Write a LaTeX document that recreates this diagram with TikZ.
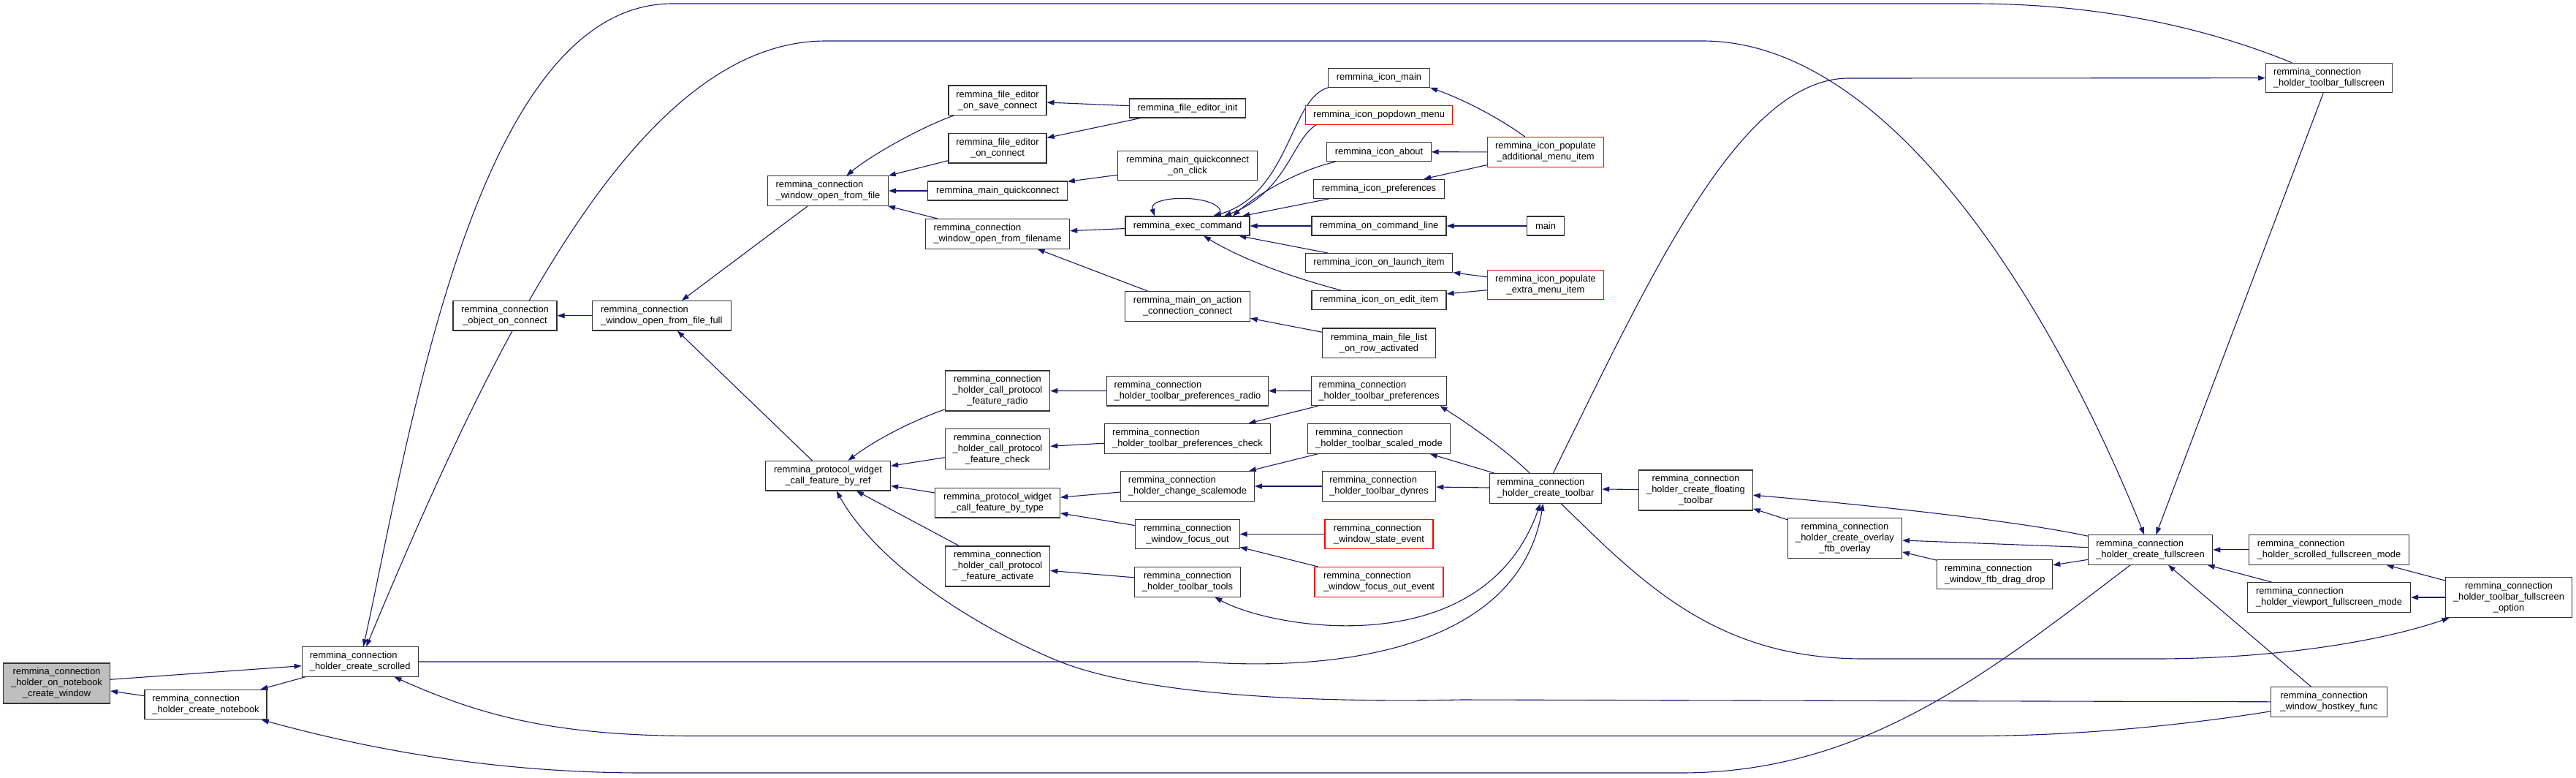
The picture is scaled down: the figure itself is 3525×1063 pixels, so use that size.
\documentclass[tikz,border=0pt]{standalone}
\usepackage{fontspec}
\setmainfont{Liberation Sans}
\usetikzlibrary{arrows.meta,backgrounds}
\definecolor{navy}{HTML}{191970}
\definecolor{grey75}{HTML}{BFBFBF}

\begin{document}
\begin{tikzpicture}[x=1pt,y=-1pt,>={Triangle[length=10pt,width=7pt]},
  fn/.style={draw=black!80,fill=white,line width=1.1pt,inner sep=1pt,font=\fontsize{12.9}{15}\selectfont},
  one/.style={minimum height=26pt},
  two/.style={minimum height=40.5pt},
  three/.style={minimum height=55pt},
  trunc/.style={draw=red}]
\useasboundingbox (0,0) rectangle (3525,1063);
\node[fn,fill=grey75,three,minimum width=146pt,align=center] (root) at (77.5,934.5) {remmina\_connection\\\_holder\_on\_notebook\\\_create\_window};
\node[fn,two,minimum width=167pt,align=left] (nb) at (281.5,963.6) {remmina\_connection\\\_holder\_create\_notebook};
\node[fn,two,minimum width=159pt,align=left] (scr) at (492.7,905) {remmina\_connection\\\_holder\_create\_scrolled};
\node[fn,two,minimum width=142pt,align=center] (oc) at (691,431.7) {remmina\_connection\\\_object\_on\_connect};
\node[fn,two,minimum width=189.5pt,align=left] (ff) at (905.3,431.7) {remmina\_connection\\\_window\_open\_from\_file\_full};
\node[fn,two,minimum width=165pt,align=left] (of) at (1133,261) {remmina\_connection\\\_window\_open\_from\_file};
\node[fn,two,minimum width=171pt,align=center] (cfr) at (1133,650.7) {remmina\_protocol\_widget\\\_call\_feature\_by\_ref};
\node[fn,two,minimum width=134pt,align=center] (sc) at (1365,137.2) {remmina\_file\_editor\\\_on\_save\_connect};
\node[fn,two,minimum width=134pt,align=center] (ocn) at (1365,202.7) {remmina\_file\_editor\\\_on\_connect};
\node[fn,one,minimum width=190.6pt] (mq) at (1365,261) {remmina\_main\_quickconnect};
\node[fn,two,minimum width=197.4pt,align=left] (ofn) at (1365,319.8) {remmina\_connection\\\_window\_open\_from\_filename};
\node[fn,three,minimum width=143.5pt,align=center] (ra) at (1365,534.5) {remmina\_connection\\\_holder\_call\_protocol\\\_feature\_radio};
\node[fn,three,minimum width=143.5pt,align=center] (ck) at (1365,614.3) {remmina\_connection\\\_holder\_call\_protocol\\\_feature\_check};
\node[fn,two,minimum width=171pt,align=center] (bt) at (1365,687.7) {remmina\_protocol\_widget\\\_call\_feature\_by\_type};
\node[fn,three,minimum width=143.5pt,align=center] (ac) at (1365,774.5) {remmina\_connection\\\_holder\_call\_protocol\\\_feature\_activate};
\node[fn,one,minimum width=158.5pt] (fei) at (1625,148) {remmina\_file\_editor\_init};
\node[fn,two,minimum width=190.5pt,align=center] (qc) at (1625,226.6) {remmina\_main\_quickconnect\\\_on\_click};
\node[fn,one,minimum width=170pt] (ex) at (1625,309) {remmina\_exec\_command};
\node[fn,two,minimum width=170.5pt,align=center] (ma) at (1625,418.8) {remmina\_main\_on\_action\\\_connection\_connect};
\node[fn,two,minimum width=220.4pt,align=left] (pr) at (1625,534.7) {remmina\_connection\\\_holder\_toolbar\_preferences\_radio};
\node[fn,two,minimum width=227.3pt,align=left] (pc) at (1625,599.8) {remmina\_connection\\\_holder\_toolbar\_preferences\_check};
\node[fn,two,minimum width=182.5pt,align=left] (cs) at (1625,665) {remmina\_connection\\\_holder\_change\_scalemode};
\node[fn,two,minimum width=142.3pt,align=center] (fo) at (1625,730.4) {remmina\_connection\\\_window\_focus\_out};
\node[fn,two,minimum width=145pt,align=center] (tt) at (1625,795.8) {remmina\_connection\\\_holder\_toolbar\_tools};
\node[fn,one,minimum width=139pt] (im) at (1887,106.4) {remmina\_icon\_main};
\node[fn,trunc,one,minimum width=201.5pt] (pd) at (1887,157.2) {remmina\_icon\_popdown\_menu};
\node[fn,one,minimum width=142.3pt] (ia) at (1887,207.7) {remmina\_icon\_about};
\node[fn,one,minimum width=179pt] (ip) at (1887,258.3) {remmina\_icon\_preferences};
\node[fn,one,minimum width=184pt] (ocl) at (1887,309) {remmina\_on\_command\_line};
\node[fn,one,minimum width=201.5pt] (il) at (1887,359.5) {remmina\_icon\_on\_launch\_item};
\node[fn,one,minimum width=184pt] (ie) at (1887,410.5) {remmina\_icon\_on\_edit\_item};
\node[fn,two,minimum width=154.4pt,align=center] (mfl) at (1887,469.2) {remmina\_main\_file\_list\\\_on\_row\_activated};
\node[fn,two,minimum width=185.4pt,align=left] (tp) at (1887,534.4) {remmina\_connection\\\_holder\_toolbar\_preferences};
\node[fn,two,minimum width=194.6pt,align=left] (sm) at (1887,600) {remmina\_connection\\\_holder\_toolbar\_scaled\_mode};
\node[fn,two,minimum width=155.5pt,align=left] (dr) at (1887,665) {remmina\_connection\\\_holder\_toolbar\_dynres};
\node[fn,trunc,two,minimum width=148pt,align=left] (se) at (1887,730.4) {remmina\_connection\\\_window\_state\_event};
\node[fn,trunc,two,minimum width=176pt,align=left] (fe) at (1887,795.8) {remmina\_connection\\\_window\_focus\_out\_event};
\node[fn,trunc,two,minimum width=158.5pt,align=center] (ad) at (2115,207.9) {remmina\_icon\_populate\\\_additional\_menu\_item};
\node[fn,one,minimum width=50.5pt] (mn) at (2115,309) {main};
\node[fn,trunc,two,minimum width=158.5pt,align=center] (ext) at (2115,389.3) {remmina\_icon\_populate\\\_extra\_menu\_item};
\node[fn,two,minimum width=153.3pt,align=left] (ctb) at (2115,668) {remmina\_connection\\\_holder\_create\_toolbar};
\node[fn,three,minimum width=155.6pt,align=center] (flt) at (2320.5,670.5) {remmina\_connection\\\_holder\_create\_floating\\\_toolbar};
\node[fn,three,minimum width=156pt,align=center] (ovl) at (2524.5,736) {remmina\_connection\\\_holder\_create\_overlay\\\_ftb\_overlay};
\node[fn,two,minimum width=158pt,align=left] (dd) at (2729.7,785.3) {remmina\_connection\\\_window\_ftb\_drag\_drop};
\node[fn,two,minimum width=170.4pt,align=left] (cfs) at (2942.5,751.9) {remmina\_connection\\\_holder\_create\_fullscreen};
\node[fn,two,minimum width=173.3pt,align=left] (tfs) at (3187,106.6) {remmina\_connection\\\_holder\_toolbar\_fullscreen};
\node[fn,two,minimum width=218.4pt,align=left] (sfm) at (3187,751.9) {remmina\_connection\\\_holder\_scrolled\_fullscreen\_mode};
\node[fn,two,minimum width=223pt,align=left] (vfm) at (3187,817) {remmina\_connection\\\_holder\_viewport\_fullscreen\_mode};
\node[fn,two,minimum width=158.6pt,align=left] (hk) at (3187,960) {remmina\_connection\\\_window\_hostkey\_func};
\node[fn,three,minimum width=173.3pt,align=center] (opt) at (3433,817) {remmina\_connection\\\_holder\_toolbar\_fullscreen\\\_option};
\begin{pgfonlayer}{background}
\begin{scope}[navy,line width=1.1pt]
\draw[->] (nb) -- (root);
\draw[->] (root) -- (scr);
\draw[->] (scr) -- (nb);
\draw[->] (tfs) .. controls (3000,30) and (2850,5) .. (2700,5) -- (920,5) .. controls (650,5) and (560,600) .. (scr);
\draw[<->] (scr) .. controls (686,440) and (880,56) .. (1130,56) -- (2330,56) .. controls (2580,56) and (2800,400) .. (cfs);
\draw[->] (tfs) -- (cfs);
\draw[->] (ctb) .. controls (2258,379) and (2380,107) .. (2530,107) -- (tfs);
\draw[->] (scr) -- (1640,905) .. controls (1850,920) and (2080,880) .. (ctb);
\draw[<->] (tt) .. controls (1740,860) and (2030,910) .. (ctb);
\draw[->] (ctb) .. controls (2250,800) and (2350,901) .. (2550,901) -- (2950,901) .. controls (3100,901) and (3250,880) .. (opt);
\draw[->] (cfs) .. controls (2760,712) and (2550,690) .. (flt);
\draw[->] (ovl) -- (flt);
\draw[->] (cfs) -- (ovl);
\draw[->] (dd) -- (ovl);
\draw[->] (cfs) -- (dd);
\draw[->] (sfm) -- (cfs);
\draw[->] (vfm) -- (cfs);
\draw[->] (opt) -- (sfm);
\draw[->] (opt) -- (vfm);
\draw[->] (hk) -- (cfs);
\draw[->] (cfs) .. controls (2719,922) and (2550,1057) .. (2300,1057) -- (880,1057) .. controls (650,1057) and (470,1015) .. (nb);
\draw[->] (hk) .. controls (3000,990) and (2850,1006.5) .. (2700,1006.5) -- (950,1006.5) .. controls (750,1006.5) and (650,975) .. (scr);
\draw[->] (hk) -- (2000,957) .. controls (1750,962) and (1550,945) .. (1448,904) .. controls (1330,855) and (1200,770) .. (cfr);
\draw[->] (cfr) -- (ff);
\draw[->] (of) -- (ff);
\draw[->] (ff) -- (oc);
\draw[->] (sc) .. controls (1265,172) and (1195,210) .. (of);
\draw[->] (ocn) -- (of);
\draw[->] (mq) -- (of);
\draw[->] (ofn) -- (of);
\draw[->] (fei) -- (sc);
\draw[->] (fei) -- (ocn);
\draw[->] (qc) -- (mq);
\draw[->] (ex) -- (ofn);
\draw[->] (ma) -- (ofn);
\draw[->] ([xshift=45pt]ex.north) .. controls (1680,265) and (1570,265) .. ([xshift=-45pt]ex.north);
\draw[->] (im.south west) .. controls (1765,135) and (1765,265) .. ([xshift=35pt]ex.north);
\draw[->] (pd.189) .. controls (1768,190) and (1762,262) .. ([xshift=50pt]ex.north);
\draw[->] (ia) .. controls (1780,232) and (1725,262) .. ([xshift=62pt]ex.north);
\draw[->] (ip) -- ([xshift=75pt]ex.north);
\draw[->] (ocl) -- (ex);
\draw[->] (il) -- (ex);
\draw[->] (ie) .. controls (1770,380) and (1700,355) .. (ex);
\draw[->] (mfl) -- (ma);
\draw[->] (ad) .. controls (2050,160) and (2000,135) .. (im.south east);
\draw[->] (ad) -- (ia);
\draw[->] (ad) -- (ip);
\draw[->] (mn) -- (ocl);
\draw[->] (ext) -- (il);
\draw[->] (ext) -- (ie);
\draw[->] (ra) .. controls (1250,575) and (1200,600) .. (cfr);
\draw[->] (ck) -- (cfr);
\draw[->] (bt) -- (cfr);
\draw[->] (ac) -- (cfr);
\draw[->] (pr) -- (ra);
\draw[->] (pc) -- (ck);
\draw[->] (cs) -- (bt);
\draw[->] (fo) -- (bt);
\draw[->] (tt) -- (ac);
\draw[->] (tp) -- (pr);
\draw[->] (tp) -- (pc);
\draw[->] (sm) -- (cs);
\draw[->] (dr) -- (cs);
\draw[->] (se) -- (fo);
\draw[->] (fe) -- (fo);
\draw[->] (ctb) .. controls (2060,615) and (2010,580) .. (tp.-14);
\draw[->] (ctb) -- (sm);
\draw[->] (ctb) -- (dr);
\draw[->] (flt) -- (ctb);
\end{scope}
\end{pgfonlayer}
\end{tikzpicture}
\end{document}
